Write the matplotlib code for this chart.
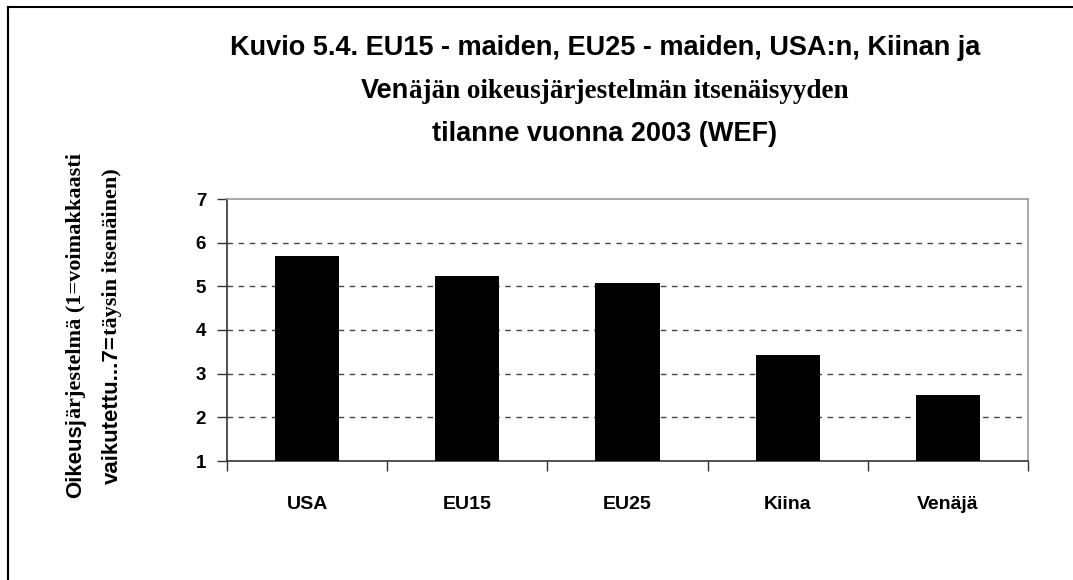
import numpy as np
import matplotlib
matplotlib.use("Agg")
import matplotlib.pyplot as plt
from matplotlib.transforms import IdentityTransform

maat = ["USA", "EU15", "EU25", "Kiina", "Venäjä"]
arvot = [5.70, 5.24, 5.07, 3.43, 2.52]
y_ticks = [1, 2, 3, 4, 5, 6, 7]

otsikko1 = "Kuvio 5.4. EU15 - maiden, EU25 - maiden, USA:n, Kiinan ja"
otsikko2 = [("Ven", "sans"), ("äjän oikeusjärjestelmän itsenäisyyden", "serif")]
otsikko3 = "tilanne vuonna 2003 (WEF)"
ylabel1 = [("Oikeusj", "sans"), ("ärjestelmä (1=voimakkaasti", "serif")]
ylabel2 = [("vaikutettu...7=", "sans"), ("täysin itsenäinen)", "serif")]

SANS = ["Liberation Sans", "DejaVu Sans"]
SERIF = ["Liberation Serif", "DejaVu Serif"]
W, H = 1073, 580

fig = plt.figure(figsize=(W / 100, H / 100), dpi=100)
ax = fig.add_axes([227 / W, (H - 461) / H, (1028 - 227) / W, (461 - 199) / H])

x = np.arange(len(maat))
ax.bar(x, np.array(arvot) - 1, bottom=1, width=0.4, color="black", zorder=3)

ax.set_xlim(-0.5, len(maat) - 0.5)
ax.set_ylim(1, 7)
ax.set_yticks(y_ticks)
ax.set_yticklabels([str(v) for v in y_ticks], fontsize=13.5, fontweight="bold",
                   family="Liberation Sans")
for v in y_ticks[1:-1]:
    ax.axhline(v, color="#444444", lw=1, ls=(0, (4, 4)), zorder=1)

# rajat kategorioiden välissä, nimet keskellä
ax.set_xticks(np.arange(-0.5, len(maat), 1.0))
ax.set_xticklabels([])
ax.set_xticks(x, minor=True)
ax.set_xticklabels(maat, minor=True, fontsize=14, fontweight="bold",
                   family="Liberation Sans")
ax.tick_params(axis="x", which="minor", length=0, pad=25)
ax.tick_params(axis="both", which="major", length=7, width=1, direction="out", color="#333333")
ax.tick_params(axis="y", pad=8)

for s in ["left", "bottom"]:
    ax.spines[s].set_color("#333333")
    ax.spines[s].set_linewidth(1.2)
for s in ["top", "right"]:
    ax.spines[s].set_color("#999999")
    ax.spines[s].set_linewidth(1.2)

fig.canvas.draw()
r = fig.canvas.get_renderer()


def rich(cx, cy, pieces, size, rotation=0):
    fams = {"sans": SANS, "serif": SERIF}
    widths = []
    for s, f in pieces:
        t = fig.text(0, 0, s, fontsize=size, fontweight="bold", family=fams[f])
        widths.append(t.get_window_extent(r).width)
        t.remove()
    pos = -sum(widths) / 2
    for (s, f), w in zip(pieces, widths):
        if rotation == 0:
            px, py = cx + pos, cy
        else:
            px, py = cx, cy + pos
        fig.text(px, py, s, fontsize=size, fontweight="bold", family=fams[f],
                 rotation=rotation, rotation_mode="anchor", ha="left", va="center",
                 transform=IdentityTransform())
        pos += w


fig.text(605, H - 48, otsikko1, fontsize=19.5, fontweight="bold", family=SANS,
         ha="center", va="center", transform=IdentityTransform())
rich(605, H - 91, otsikko2, 19.5)
fig.text(605, H - 134, otsikko3, fontsize=19.5, fontweight="bold", family=SANS,
         ha="center", va="center", transform=IdentityTransform())

rich(76, H - 326, ylabel1, 16, rotation=90)
rich(112, H - 326, ylabel2, 16, rotation=90)

# kehys (vain ylä- ja vasen reuna näkyvät)
fig.add_artist(plt.Line2D([8 / W, 1], [1 - 7 / H, 1 - 7 / H], color="black", lw=1.5))
fig.add_artist(plt.Line2D([8 / W, 8 / W], [0, 1 - 7 / H], color="black", lw=1.5))

fig.savefig("out.png", dpi=100)
